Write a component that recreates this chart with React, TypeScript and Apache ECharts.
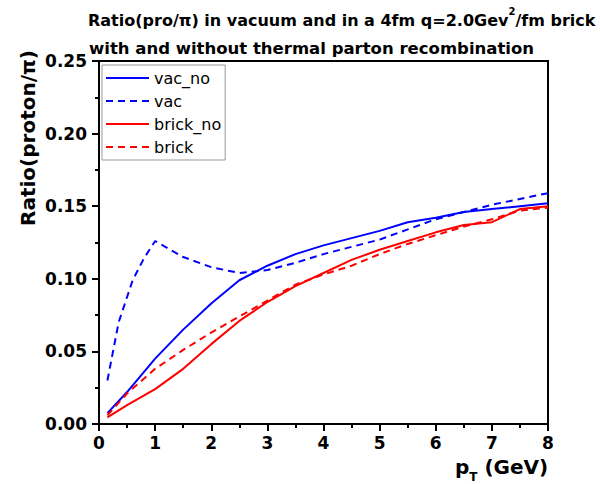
import React, { useEffect, useRef } from "react";
import * as echarts from "echarts";

const vacNoX = [0.15, 0.5, 1, 1.5, 2, 2.5, 3, 3.5, 4, 4.5, 5, 5.5, 6, 6.5, 7, 7.5, 8];
const vacNoY = [0.0075, 0.022, 0.045, 0.065, 0.083, 0.099, 0.109, 0.117, 0.123, 0.128, 0.133, 0.139, 0.142, 0.146, 0.148, 0.150, 0.152];

const vacX = [0.15, 0.35, 0.6, 0.8, 1, 1.5, 2, 2.5, 3, 3.5, 4, 4.5, 5, 5.5, 6, 6.5, 7, 7.5, 8];
const vacY = [0.030, 0.070, 0.099, 0.114, 0.126, 0.115, 0.108, 0.104, 0.106, 0.111, 0.117, 0.122, 0.127, 0.134, 0.141, 0.146, 0.151, 0.155, 0.159];

const brickNoX = [0.15, 0.5, 1, 1.5, 2, 2.5, 3, 3.5, 4, 4.5, 5, 5.5, 6, 6.5, 7, 7.5, 8];
const brickNoY = [0.0045, 0.013, 0.024, 0.038, 0.055, 0.071, 0.084, 0.095, 0.104, 0.113, 0.120, 0.126, 0.132, 0.137, 0.139, 0.148, 0.150];

const brickX = [0.15, 0.5, 1, 1.5, 2, 2.5, 3, 3.5, 4, 4.5, 5, 5.5, 6, 6.5, 7, 7.5, 8];
const brickY = [0.006, 0.021, 0.038, 0.051, 0.063, 0.074, 0.085, 0.096, 0.103, 0.109, 0.117, 0.124, 0.130, 0.136, 0.141, 0.147, 0.149];

const seriesNames = ["vac_no", "vac", "brick_no", "brick"];
const titleLine1 = "Ratio(pro/π) in vacuum and in a 4fm q=2.0Gev";
const titleLine1b = "/fm brick";
const titleLine2 = "with and without thermal parton recombination";
const yName = "Ratio(proton/π)";

const FONT = "'DejaVu Sans', Verdana, sans-serif";

const zip = (xs: number[], ys: number[]) => xs.map((x, i) => [x, ys[i]]);

export default function App() {
  const ref = useRef<HTMLDivElement>(null);
  useEffect(() => {
    document.body.style.margin = "0";
    if (!ref.current) return;
    const chart = echarts.init(ref.current, undefined, { renderer: "svg" });
    const mk = (name: string, data: number[][], color: string, dashed: boolean) => ({
      name,
      type: "line",
      data,
      symbol: "none",
      showSymbol: false,
      lineStyle: { color, width: 2, type: dashed ? [7, 5] : "solid" },
      itemStyle: { color },
    });
    chart.setOption({
      animation: false,
      backgroundColor: "#fff",
      grid: {
        left: 99, top: 61, right: 52, bottom: 60,
        containLabel: false, outerBoundsMode: "none",
        show: true, borderColor: "#000", borderWidth: 2, backgroundColor: "transparent",
      },
      legend: {
        data: seriesNames,
        orient: "vertical",
        left: 102,
        top: 65,
        itemWidth: 43,
        itemHeight: 14,
        itemGap: 7,
        padding: [5, 4, 5, 3],
        backgroundColor: "#fff",
        borderColor: "#999",
        borderWidth: 1,
        itemStyle: { opacity: 0 },
        textStyle: { fontFamily: FONT, fontSize: 16, color: "#000", lineHeight: 16 },
      },
      xAxis: {
        type: "value",
        min: 0,
        max: 8,
        interval: 1,
        splitLine: { show: false },
        axisLine: { show: true, onZero: false, lineStyle: { color: "#000", width: 2 } },
        axisTick: { show: true, inside: false, length: 7, lineStyle: { color: "#000", width: 2 } },
        minorTick: { show: true, splitNumber: 2, length: 4, lineStyle: { color: "#000", width: 2 } },
        axisLabel: { fontFamily: FONT, fontSize: 17, fontWeight: "bold", color: "#000", margin: 10 },
      },
      yAxis: {
        type: "value",
        min: 0,
        max: 0.25,
        interval: 0.05,
        splitLine: { show: false },
        axisLine: { show: true, onZero: false, lineStyle: { color: "#000", width: 2 } },
        axisTick: { show: true, inside: false, length: 7, lineStyle: { color: "#000", width: 2 } },
        minorTick: { show: true, splitNumber: 2, length: 4, lineStyle: { color: "#000", width: 2 } },
        axisLabel: { fontFamily: FONT, fontSize: 17, fontWeight: "bold", color: "#000", margin: 12, formatter: (v: number) => v.toFixed(2) },
      },
      series: [
        mk("vac_no", zip(vacNoX, vacNoY), "#0000ff", false),
        mk("vac", zip(vacX, vacY), "#0000ff", true),
        mk("brick_no", zip(brickNoX, brickNoY), "#ff0000", false),
        mk("brick", zip(brickX, brickY), "#ff0000", true),
      ],
      graphic: [
        {
          type: "text",
          left: 88,
          top: 6,
          style: {
            text: "{a|" + titleLine1 + "}{s|2}{a|" + titleLine1b + "}",
            rich: {
              a: { fontFamily: FONT, fontSize: 16, fontWeight: "bold", fill: "#000", verticalAlign: "bottom", lineHeight: 22 },
              s: { fontFamily: FONT, fontSize: 10, fontWeight: "bold", fill: "#000", verticalAlign: "top", lineHeight: 22, padding: [0, 0, 8, 0] },
            },
          },
        },
        {
          type: "text",
          left: 89,
          top: 40,
          style: { text: titleLine2, fontFamily: FONT, fontSize: 16.5, fontWeight: "bold", fill: "#000" },
        },
        {
          type: "text",
          x: 28,
          y: 138,
          rotation: Math.PI / 2,
          style: { text: yName, fontFamily: FONT, fontSize: 20, fontWeight: "bold", fill: "#000", align: "center", verticalAlign: "middle" },
        },
        {
          type: "text",
          left: 455,
          top: 457,
          style: {
            text: "{a|p}{s|T}{a| (GeV)}",
            rich: {
              a: { fontFamily: FONT, fontSize: 20, fontWeight: "bold", fill: "#000", lineHeight: 26, verticalAlign: "top" },
              s: { fontFamily: FONT, fontSize: 12, fontWeight: "bold", fill: "#000", lineHeight: 26, verticalAlign: "bottom" },
            },
          },
        },
      ],
    });
    return () => chart.dispose();
  }, []);
  return <div ref={ref} style={{ width: 600, height: 484 }} />;
}
